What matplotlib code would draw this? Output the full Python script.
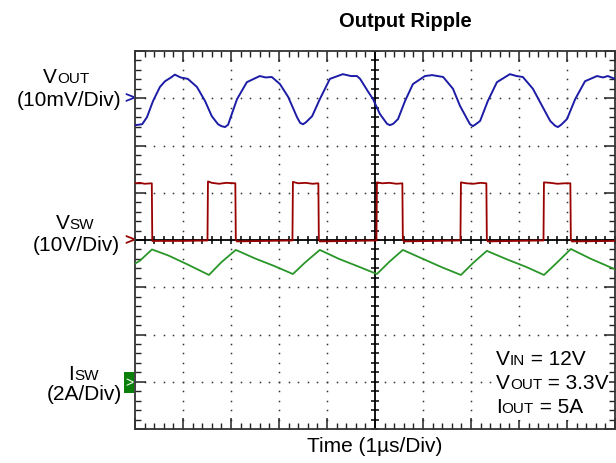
"""
Output ripple scope capture: VOUT, VSW and ISW traces on a 10 x 8 division graticule.
"""

import numpy as np
import matplotlib
matplotlib.use("Agg")
import matplotlib.pyplot as plt
from matplotlib.patches import Rectangle

plt.rcParams["font.family"] = ["Liberation Sans", "DejaVu Sans"]

W, H = 616, 464

# ---- data, in scope divisions (x: 1us/div, y: div from screen centre) ----
# VOUT, 10mV/div, channel ground marker at +3 div
vout_t = [0.00, 0.15, 0.25, 0.375, 0.52, 0.625, 0.75, 0.83, 0.95, 1.10, 1.29, 1.46, 1.60, 1.73,
          1.80, 1.875, 1.94, 1.98, 2.125, 2.33, 2.60, 2.72, 2.85, 3.02, 3.19, 3.375, 3.44,
          3.50, 3.56, 3.69, 3.85, 4.06, 4.33, 4.50, 4.625, 4.69, 4.85, 4.96, 5.10, 5.25,
          5.31, 5.38, 5.48, 5.625, 5.79, 6.04, 6.19, 6.42, 6.625, 6.77, 6.92, 6.98, 7.04,
          7.10, 7.19, 7.35, 7.54, 7.81, 7.95, 8.08, 8.29, 8.48, 8.65, 8.75, 8.81, 8.88,
          9.00, 9.17, 9.375, 9.625, 9.75, 9.85, 10.0]
vout_v = [2.43, 2.45, 2.60, 2.94, 3.24, 3.36, 3.44, 3.50, 3.44, 3.41, 3.24, 2.94, 2.62, 2.45,
          2.41, 2.39, 2.44, 2.56, 2.98, 3.34, 3.47, 3.44, 3.45, 3.30, 3.03, 2.60, 2.48,
          2.45, 2.49, 2.62, 2.98, 3.41, 3.51, 3.47, 3.47, 3.41, 3.15, 2.98, 2.67, 2.46,
          2.43, 2.46, 2.56, 2.94, 3.30, 3.47, 3.49, 3.45, 3.20, 2.84, 2.56, 2.45, 2.41,
          2.45, 2.52, 2.94, 3.34, 3.51, 3.47, 3.45, 3.20, 2.84, 2.52, 2.42, 2.39, 2.44,
          2.56, 2.98, 3.36, 3.47, 3.44, 3.47, 3.41]

# VSW, 10V/div, ground at 0 div
vsw_t = [0.00, 0.10, 0.20, 0.35, 0.36, 1.00, 1.51, 1.52, 1.60, 1.75, 1.90, 2.09, 2.10,
         2.12, 2.70, 3.28, 3.29, 3.40, 3.55, 3.70, 3.82, 3.83, 3.85, 4.50, 5.03, 5.04,
         5.15, 5.30, 5.45, 5.57, 5.58, 5.60, 6.20, 6.78, 6.79, 6.90, 7.05, 7.20, 7.32,
         7.33, 7.35, 7.90, 8.51, 8.52, 8.65, 8.80, 8.95, 9.07, 9.08, 9.10, 10.0]
vsw_v = [1.20, 1.21, 1.19, 1.20, -0.02, -0.02, -0.01, 1.24, 1.21, 1.19, 1.21, 1.20, 0.02,
         -0.03, -0.02, -0.01, 1.23, 1.20, 1.21, 1.19, 1.20, 0.02, -0.03, -0.02, -0.01, 1.22,
         1.20, 1.21, 1.19, 1.20, 0.02, -0.03, -0.02, -0.01, 1.22, 1.20, 1.19, 1.21, 1.20,
         0.02, -0.03, -0.02, -0.01, 1.22, 1.21, 1.19, 1.20, 1.20, 0.02, -0.03, -0.02]

# ISW, 2A/div, channel ground marker at -3 div
isw_t = [0.00, 0.10, 0.354, 0.70, 1.10, 1.54, 1.80, 2.10, 2.50, 2.90, 3.29, 3.55, 3.85,
         4.25, 4.65, 5.04, 5.30, 5.58, 6.00, 6.40, 6.79, 7.05, 7.33, 7.75, 8.15, 8.52,
         8.80, 9.08, 9.50, 10.0]
isw_v = [-0.50, -0.44, -0.20, -0.33, -0.52, -0.74, -0.47, -0.21, -0.39, -0.55, -0.72,
         -0.47, -0.21, -0.40, -0.56, -0.72, -0.46, -0.21, -0.40, -0.58, -0.74, -0.48,
         -0.23, -0.41, -0.57, -0.74, -0.47, -0.19, -0.40, -0.62]

conditions = [("V", "IN", " = 12V"), ("V", "OUT", " = 3.3V"), ("I", "OUT", " = 5A")]

blue = "#1c1ca6"
red = "#990000"
green = "#2a962a"


def fx(x):
    return x / W


def fy(y):
    return 1 - y / H


def rich_text(x, y, parts, ha="left"):
    """Draw a run of (text, size) pieces on one baseline, x/y in pixels."""
    r = fig.canvas.get_renderer()
    widths = []
    for s, fs in parts:
        t = fig.text(0, 0, s, fontsize=fs)
        widths.append(t.get_window_extent(r).width)
        t.remove()
    if ha == "center":
        x -= sum(widths) / 2
    elif ha == "right":
        x -= sum(widths)
    for (s, fs), w in zip(parts, widths):
        fig.text(fx(x), fy(y), s, fontsize=fs, va="baseline", ha="left", color="black")
        x += w


fig = plt.figure(figsize=(W / 100, H / 100), dpi=100)
ax = fig.add_axes([fx(135), fy(430), 480 / W, 378 / H])
ax.set_xlim(0, 10)
ax.set_ylim(-4, 4)

# graticule: dotted lines, dots at each minor step
minor_x = np.arange(0, 10.001, 0.2)
minor_y = np.arange(-4, 4.001, 0.2)
for gx in range(1, 10):
    if gx != 5:
        ax.plot(np.full_like(minor_y, gx), minor_y, ls="none", marker="s", ms=1.1,
                color="#333333", mew=0, zorder=1)
for gy in range(-3, 4):
    if gy != 0:
        ax.plot(minor_x, np.full_like(minor_x, gy), ls="none", marker="s", ms=1.1,
                color="#333333", mew=0, zorder=1)

# centre cross with tick marks
ax.axhline(0, color="black", lw=1.3, zorder=2)
ax.axvline(5, color="black", lw=1.3, zorder=2)
ax.plot(minor_x, np.zeros_like(minor_x), ls="none", marker="|", ms=5.5, mew=1.1,
        color="black", zorder=2)
ax.plot(np.full_like(minor_y, 5), minor_y, ls="none", marker="_", ms=5.5, mew=1.1,
        color="black", zorder=2)

# traces
ax.plot(vout_t, vout_v, color=blue, lw=1.4, zorder=4)
ax.plot(vsw_t, vsw_v, color=red, lw=1.3, zorder=4)
ax.plot(isw_t, isw_v, color=green, lw=1.3, zorder=4)

# border ticks
ax.set_xticks(np.arange(0, 11, 1))
ax.set_yticks(np.arange(-4, 5, 1))
ax.set_xticks(minor_x, minor=True)
ax.set_yticks(minor_y, minor=True)
ax.tick_params(which="both", direction="in", top=True, right=True,
               labelbottom=False, labelleft=False, color="#222222")
ax.tick_params(which="major", length=8, width=1.1)
ax.tick_params(which="minor", length=4, width=1.0)
for sp in ax.spines.values():
    sp.set_color("#333333")
    sp.set_linewidth(1.3)

# white panel behind the operating conditions
ax.add_patch(Rectangle((fx(493), fy(421)), (609 - 493) / W, (421 - 343) / H,
                       transform=fig.transFigure, facecolor="white", edgecolor="none",
                       zorder=3))

# title and axis label
fig.text(fx(405), fy(27), "Output Ripple", fontsize=14.5, fontweight="bold",
         ha="center", va="baseline")
fig.text(fx(375), fy(452), "Time (1\u00b5s/Div)", fontsize=15, ha="center", va="baseline")

# channel labels
rich_text(66, 83, [("V", 15), ("OUT", 11)], ha="center")
fig.text(fx(121), fy(106.5), "(10mV/Div)", fontsize=15, ha="right", va="baseline")
rich_text(75, 229, [("V", 15), ("SW", 11)], ha="center")
fig.text(fx(120), fy(251), "(10V/Div)", fontsize=15, ha="right", va="baseline")
rich_text(83.5, 380, [("I", 15), ("SW", 11)], ha="center")
fig.text(fx(122), fy(400), "(2A/Div)", fontsize=15, ha="right", va="baseline")

# channel ground markers
fig.text(fx(129), fy(99), ">", fontsize=12, fontweight="bold", color=blue,
         ha="center", va="center")
fig.text(fx(129), fy(241), ">", fontsize=12, fontweight="bold", color=red,
         ha="center", va="center")
fig.patches.append(Rectangle((fx(124), fy(394)), 10 / W, 21 / H, transform=fig.transFigure,
                             facecolor="#0a7f0a", edgecolor="none", figure=fig))
fig.text(fx(129), fy(383), ">", fontsize=10, color="white", ha="center", va="center")

# operating conditions
for i, (a, b, c) in enumerate(conditions):
    rich_text(496, 365 + 24 * i, [(a, 15), (b, 11), (c, 15)])

fig.savefig("out.png", dpi=100)
